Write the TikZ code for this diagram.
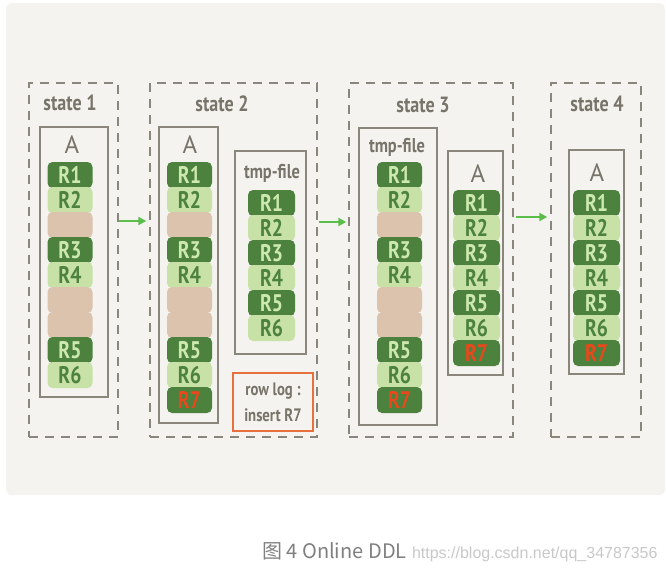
\documentclass[tikz,border=0pt]{standalone}
\usepackage{fontspec}
\setmainfont{PT Sans}
\newfontfamily\handfont{PT Sans}[FakeStretch=0.82]
\newfontfamily\cjkfont{Noto Sans CJK SC}
\newfontfamily\urlfont{Liberation Sans}
\usepackage{xcolor}
\usepackage{tikz}
\usetikzlibrary{arrows.meta,positioning}
\definecolor{ddlpanel}{RGB}{244,243,239}
\definecolor{ddlgreen}{RGB}{76,130,62}
\definecolor{ddlgreenLight}{RGB}{199,225,166}
\definecolor{ddltext}{RGB}{205,232,176}
\definecolor{ddlbeige}{RGB}{220,195,173}
\definecolor{ddlgray}{RGB}{139,134,124}
\definecolor{ddlink}{RGB}{120,116,106}
\definecolor{ddlorange}{RGB}{232,112,60}
\definecolor{ddlred}{RGB}{232,72,28}
\definecolor{ddlarrow}{RGB}{92,190,74}
\definecolor{ddlcaption}{RGB}{128,128,128}
\definecolor{ddlurl}{RGB}{200,200,200}

\begin{document}
\begin{tikzpicture}[x=1pt, y=-1pt,
  every node/.style={inner sep=0pt},
  statebox/.style={draw=ddlgray, line width=1.4pt, dash pattern=on 9pt off 7pt, minimum height=354pt},
  frame/.style={draw=ddlgray, line width=1.6pt},
  title/.style={text=ddlink, font=\handfont\bfseries\fontsize{22}{22}\selectfont},
  tabname/.style={text=ddlink, font=\fontsize{25}{25}\selectfont},
  row/.style={rounded corners=5pt, minimum width=46pt, minimum height=26pt, font=\handfont\bfseries\fontsize{24}{24}\selectfont},
  rowdk/.style={row, fill=ddlgreen, text=ddltext},
  rowlt/.style={row, fill=ddlgreenLight, text=ddlgreen},
  rowgap/.style={row, fill=ddlbeige},
  rownew/.style={row, fill=ddlgreen, text=ddlred},
  flow/.style={-{Triangle[length=8pt,width=8pt]}, ddlarrow, line width=2pt}]
  \useasboundingbox (0,0) rectangle (666,573);
  \fill[ddlpanel, rounded corners=6pt] (6,3) rectangle (665,495);

  % the four states
  \node[statebox, minimum width=89pt] (st1) at (73.5,260) {};
  \node[statebox, minimum width=167pt] (st2) at (233.5,260) {};
  \node[statebox, minimum width=164pt] (st3) at (431,260) {};
  \node[statebox, minimum width=90pt] (st4) at (596,260) {};
  \node[title] (lb1) at (70,103) {state 1};
  \node[title] (lb2) at (222,104) {state 2};
  \node[title] (lb3) at (423,105) {state 3};
  \node[title] (lb4) at (597,104) {state 4};

  % frames
  \node[frame, minimum width=68pt, minimum height=270pt] (fa1) at (74,262) {};
  \node[frame, minimum width=59pt, minimum height=296pt] (fa2) at (188.5,275) {};
  \node[frame, minimum width=71pt, minimum height=203pt] (ft2) at (270.5,252.5) {};
  \node[frame, minimum width=78pt, minimum height=297pt] (ft3) at (398,276.5) {};
  \node[frame, minimum width=55pt, minimum height=224pt] (fa3) at (475.5,263) {};
  \node[frame, minimum width=55pt, minimum height=224pt] (fa4) at (596.5,262) {};
  \node[tabname] at (72,145) {A};
  \node[tabname] at (190,145) {A};
  \node[title, font=\handfont\bfseries\fontsize{20}{20}\selectfont] at (272,173) {tmp-file};
  \node[title, font=\handfont\bfseries\fontsize{20}{20}\selectfont] at (397,147) {tmp-file};
  \node[tabname] at (478,174) {A};
  \node[tabname] at (597,173) {A};

  % rows
  \foreach \lab/\kind [count=\i from 0] in {R1/dk,R2/lt,{}/gap,R3/dk,R4/lt,{}/gap,{}/gap,R5/dk,R6/lt}
    \node[row\kind, minimum width=45pt] (a1-\i) at (70,{175+25*\i}) {\lab};
  \foreach \lab/\kind [count=\i from 0] in {R1/dk,R2/lt,{}/gap,R3/dk,R4/lt,{}/gap,{}/gap,R5/dk,R6/lt,R7/new}
    \node[row\kind, minimum width=45pt] (a2-\i) at (189.5,{175+25*\i}) {\lab};
  \foreach \lab/\kind [count=\i from 0] in {R1/dk,R2/lt,R3/dk,R4/lt,R5/dk,R6/lt}
    \node[row\kind, minimum width=47pt] (t2-\i) at (271.5,{203+25*\i}) {\lab};
  \foreach \lab/\kind [count=\i from 0] in {R1/dk,R2/lt,{}/gap,R3/dk,R4/lt,{}/gap,{}/gap,R5/dk,R6/lt,R7/new}
    \node[row\kind, minimum width=45pt] (t3-\i) at (399.5,{175+25*\i}) {\lab};
  \foreach \lab/\kind [count=\i from 0] in {R1/dk,R2/lt,R3/dk,R4/lt,R5/dk,R6/lt,R7/new}
    \node[row\kind, minimum width=47pt] (a3-\i) at (476.5,{203+25*\i}) {\lab};
  \foreach \lab/\kind [count=\i from 0] in {R1/dk,R2/lt,R3/dk,R4/lt,R5/dk,R6/lt,R7/new}
    \node[row\kind, minimum width=47pt] (a4-\i) at (596.5,{203+25*\i}) {\lab};

  % row log
  \node[draw=ddlorange, line width=1.4pt, minimum width=80pt, minimum height=58pt, align=center,
        text=ddlink, font=\handfont\bfseries\fontsize{18}{26}\selectfont] (log2) at (273,402) {row log :\\insert R7};

  % steps
  \draw[flow, shorten >=3pt] ([yshift=39pt]st1.east) -- ([yshift=39pt]st2.west);
  \draw[flow, shorten >=2pt, shorten <=1pt] ([yshift=38pt]st2.east) -- ([yshift=38pt]st3.west);
  \draw[flow, shorten >=3pt, shorten <=2pt] ([yshift=43pt]st3.east) -- ([yshift=43pt]st4.west);

  % caption
  \node[anchor=west, text=ddlcaption, font=\cjkfont\fontsize{20}{20}\selectfont] (cap) at (262,551) {图 4 Online DDL};
  \node[anchor=base west, text=ddlurl, font=\urlfont\fontsize{16}{16}\selectfont] (url) at ([xshift=5pt]cap.base east) {https://blog.csdn.net/qq\_34787356};
\end{tikzpicture}
\end{document}
